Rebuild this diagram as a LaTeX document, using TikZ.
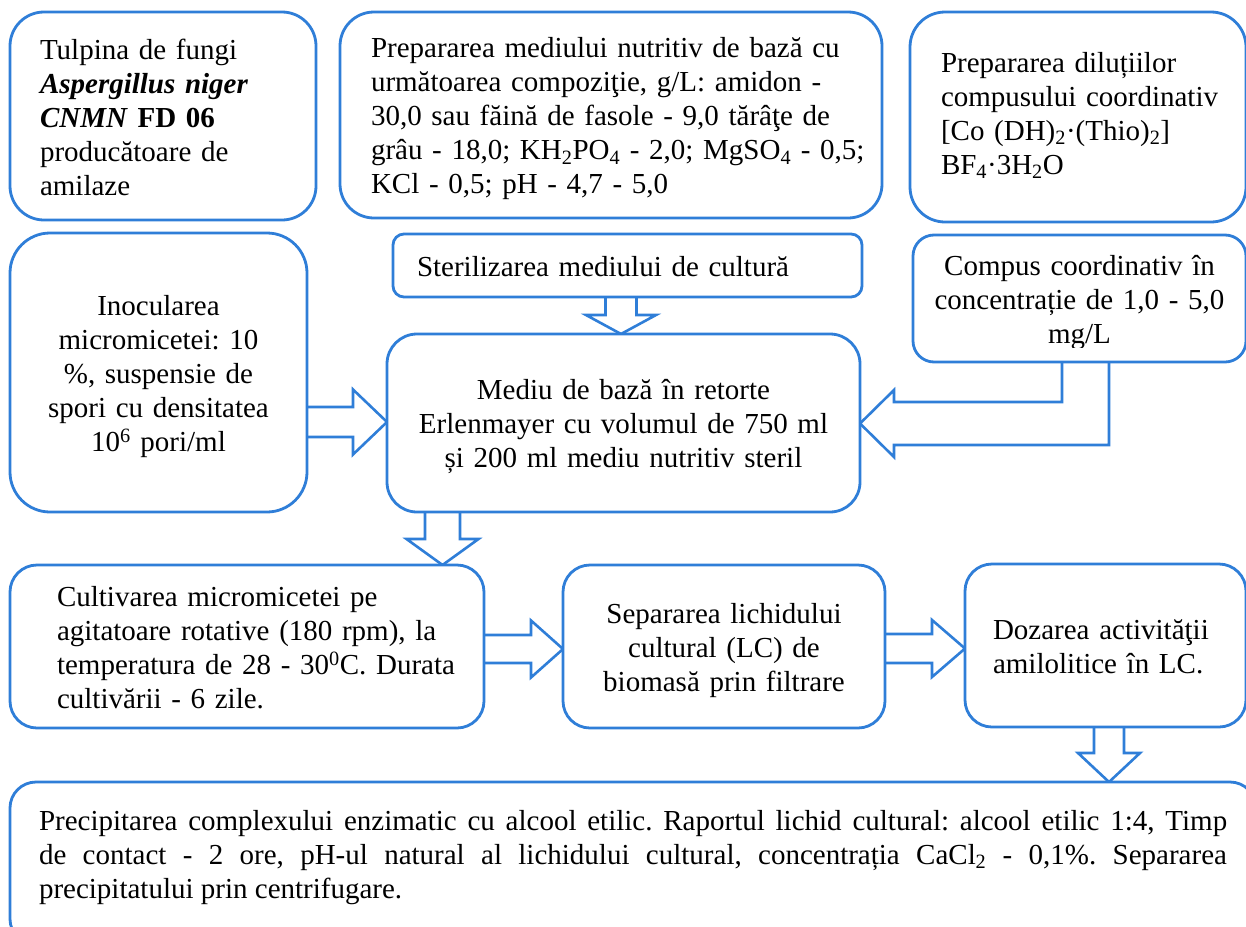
\documentclass[tikz,border=0pt]{standalone}
\usepackage{fontspec}
\setmainfont{Liberation Serif}
\usetikzlibrary{calc}
\definecolor{bl}{HTML}{2F7ED8}
\setlength{\parindent}{0pt}
\frenchspacing
\hyphenpenalty=10000
\exhyphenpenalty=10000
\pgfdeclarelayer{back}
\pgfdeclarelayer{arrows}
\pgfsetlayers{back,arrows,main}
\newcommand\tsa{\rule{0pt}{28pt}}
\newcommand\tse[1][6pt]{\rule[-#1]{0pt}{#1}}
\tikzset{
  box/.style={draw=bl, line width=2.8pt, fill=white, rectangle, inner sep=0pt, outer sep=0pt, anchor=north west},
  barrow/.style={draw=bl, line width=2.6pt, fill=white, line join=miter, miter limit=10},
}
% down block arrow: src, dst, x, shaft half, head half, head length
\newcommand\ardown[6]{%
  \draw[barrow] let \p1=(#1.south), \p2=(#2.north) in
    ({#3pt-#4pt},\y1) -- ({#3pt-#4pt},{\y2+#6pt}) -- ({#3pt-#5pt},{\y2+#6pt}) --
    ({#3pt},\y2) -- ({#3pt+#5pt},{\y2+#6pt}) -- ({#3pt+#4pt},{\y2+#6pt}) -- ({#3pt+#4pt},\y1);}
% right block arrow: src, dst, y, shaft half, head half, head length
\newcommand\arright[6]{%
  \draw[barrow] let \p1=(#1.east), \p2=(#2.west) in
    (\x1,{-#3pt+#4pt}) -- ({\x2-#6pt},{-#3pt+#4pt}) -- ({\x2-#6pt},{-#3pt+#5pt}) --
    (\x2,{-#3pt}) -- ({\x2-#6pt},{-#3pt-#5pt}) -- ({\x2-#6pt},{-#3pt-#4pt}) -- (\x1,{-#3pt-#4pt});}
\begin{document}
\begin{tikzpicture}[x=1pt, y=-1pt, font=\fontsize{29}{34}\selectfont]
\begin{pgfonlayer}{back}
  \fill[white] (0,0) rectangle (1246,926);
\end{pgfonlayer}
\useasboundingbox (0,0) rectangle (1246,926);
\clip (0,0) rectangle (1246,926);

% top row
\node[box, rounded corners=34pt, minimum width=306pt, minimum height=208pt, text width=246pt, align=left] (tulp) at (10,12)
  {\tsa Tulpina de fungi\\ \textbf{\textit{Aspergillus niger}}\\ \textbf{\textit{CNMN} FD 06}\\ producătoare de\\ amilaze\tse};
\node[box, rounded corners=34pt, minimum width=542pt, minimum height=206pt, text width=480pt, align=left] (prep) at (340,12)
  {\tsa\mbox{Prepararea mediului nutritiv de bază cu}\\ \mbox{următoarea compoziţie, g/L: amidon -}\\ \mbox{30,0 sau făină de fasole - 9,0 tărâţe de}\\ \mbox{grâu - 18,0; KH\textsubscript{2}PO\textsubscript{4} - 2,0; MgSO\textsubscript{4} - 0,5;}\\ KCl - 0,5; pH - 4,7 - 5,0\tse};
\node[box, rounded corners=35pt, minimum width=336pt, minimum height=210pt, text width=274pt, align=left] (dil) at (910,12)
  {\tsa Prepararea diluțiilor\\ \mbox{compusului coordinativ}\\ {[}Co (DH)\textsubscript{2}·(Thio)\textsubscript{2}{]}\\ BF\textsubscript{4}·3H\textsubscript{2}O\tse[16pt]};

% middle
\node[box, rounded corners=40pt, minimum width=297pt, minimum height=279pt, text width=280pt, align=center] (inoc) at (10,233)
  {\tsa Inocularea\\ micromicetei: 10\\ \%, suspensie de\\ spori cu densitatea\\ 10\textsuperscript{6} pori/ml\tse};
\node[box, rounded corners=11pt, minimum width=469pt, minimum height=63pt, text width=421pt, align=left] (ster) at (393,234)
  {\tsa Sterilizarea mediului de cultură\tse};
\node[box, rounded corners=21pt, minimum width=333pt, minimum height=127pt] (compus) at (913,235) {};
\begin{scope}
  \clip (913,235) rectangle (1246,347);
  \node[inner sep=0pt, text width=320pt, align=center] (compustxt) at (compus.center)
    {\tsa Compus coordinativ în\\ concentrație de 1,0 - 5,0\\ mg/L\tse};
\end{scope}
\node[box, rounded corners=30pt, minimum width=473pt, minimum height=178pt, text width=440pt, align=center] (mediu) at (387,334)
  {\tsa Mediu de bază în retorte\\ Erlenmayer cu volumul de 750 ml\\ și 200 ml mediu nutritiv steril\tse};

% lower row
\node[box, rounded corners=27pt, minimum width=474pt, minimum height=163pt, text width=380pt, align=left] (cult) at (10,565)
  {\tsa\mbox{Cultivarea micromicetei pe}\\ \mbox{agitatoare rotative (180 rpm), la}\\ \mbox{temperatura de 28 - 30\textsuperscript{0}C. Durata}\\ cultivării - 6 zile.\tse};
\node[box, rounded corners=27pt, minimum width=322pt, minimum height=163pt, text width=300pt, align=center] (sep) at (563,565)
  {\tsa Separarea lichidului\\ cultural (LC) de\\ biomasă prin filtrare\tse};
\node[box, rounded corners=27pt, minimum width=281pt, minimum height=163pt, text width=225pt, align=left] (doz) at (965,564)
  {\tsa\mbox{Dozarea activităţii}\\ \mbox{amilolitice în LC.}\tse};

% bottom
\node[box, rounded corners=26pt, minimum width=1246pt, minimum height=163pt, text width=1188pt, align=justify] (prec) at (10,782)
  {\tsa Precipitarea complexului enzimatic cu alcool etilic. Raportul lichid cultural: alcool etilic 1:4, Timp\linebreak de contact - 2 ore, pH-ul natural al lichidului cultural, concentrația CaCl\textsubscript{2} - 0,1\%. Separarea\linebreak precipitatului prin centrifugare.\tse[27pt]};

% block arrows
\begin{pgfonlayer}{arrows}
  \ardown{ster}{mediu}{621}{15.5}{35}{19}
  \ardown{mediu}{cult}{442.5}{17.5}{36}{26}
  \ardown{doz}{prec}{1109}{15}{31}{29}
  \arright{inoc}{mediu}{422}{15}{32.5}{34}
  \arright{cult}{sep}{649}{14}{28.5}{32}
  \arright{sep}{doz}{648.5}{14.5}{28.5}{33}
  \draw[barrow] let \p1=(compus.south), \p2=(mediu.east) in
    (1062pt,\y1) -- (1062pt,-402pt) -- ({\x2+34pt},-402pt) -- ({\x2+34pt},-390pt) --
    (\x2,-423.5pt) -- ({\x2+34pt},-457pt) -- ({\x2+34pt},-445pt) -- (1109pt,-445pt) -- (1109pt,\y1);
\end{pgfonlayer}
\end{tikzpicture}
\end{document}
